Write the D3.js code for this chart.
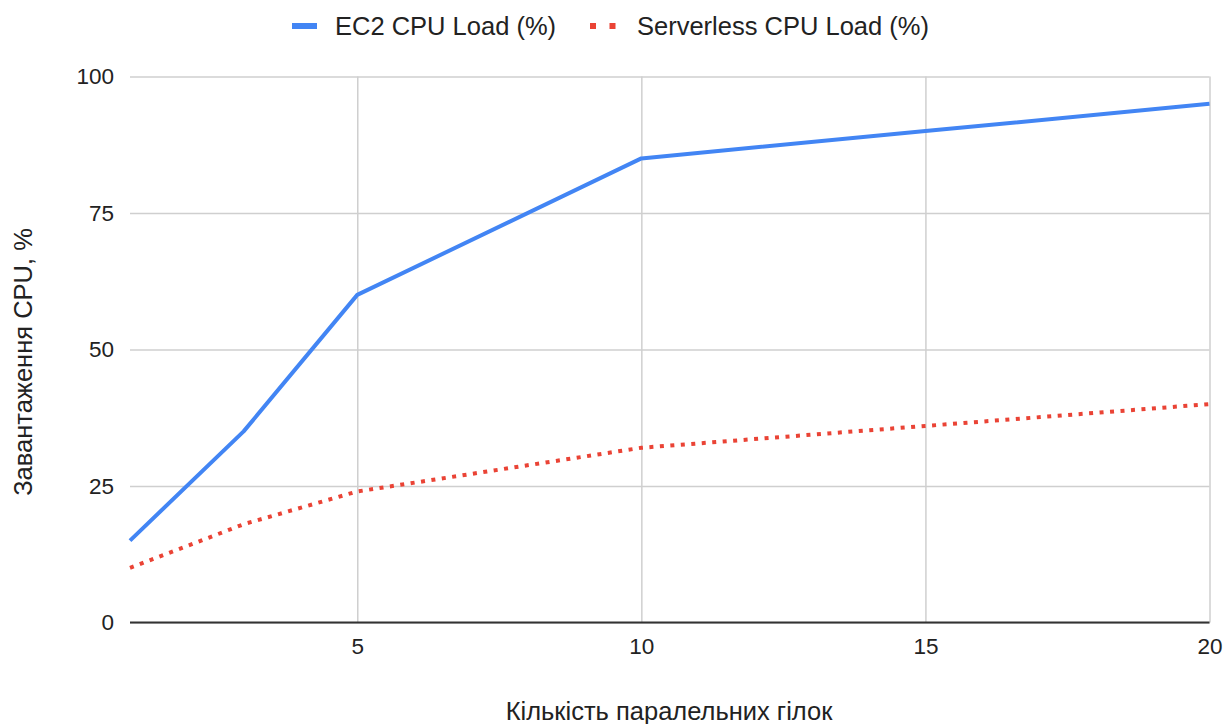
<!DOCTYPE html>
<html>
<head>
<meta charset="utf-8">
<script src="https://cdn.jsdelivr.net/npm/d3@7"></script>
<style>
  html, body { margin: 0; padding: 0; background: #fff; }
  svg { display: block; font-family: "Liberation Sans", Arial, sans-serif; }
</style>
</head>
<body>
<svg id="chart" width="1227" height="724"></svg>
<script>
// Number of parallel branches
const branches = [1, 3, 5, 10, 15, 20];
// CPU load per configuration, %
const ec2Load = [15, 35, 60, 85, 90, 95];
const serverlessLoad = [10, 18, 24, 32, 36, 40];
const xTicks = [5, 10, 15, 20];
const yTicks = [0, 25, 50, 75, 100];
const seriesNames = ["EC2 CPU Load (%)", "Serverless CPU Load (%)"];
const xTitle = "Кількість паралельних гілок";
const yTitle = "Завантаження CPU, %";

const W = 1227, H = 724;
const plot = { left: 130, right: 1209.5, top: 76.5, bottom: 622.5 };
const colors = { ec2: "#4285F4", serverless: "#EA4335" };
const tickFont = 22.5, labelFont = 25.5;

const svg = d3.select("#chart");

const x = d3.scaleLinear().domain([1, 20]).range([plot.left, plot.right]);
const y = d3.scaleLinear().domain([0, 100]).range([plot.bottom, plot.top]);

// Horizontal gridlines + y tick labels
const yAxis = d3.axisLeft(y).tickValues(yTicks).tickSize(-(plot.right - plot.left)).tickPadding(16);
const gy = svg.append("g").attr("transform", `translate(${plot.left},0)`).call(yAxis);
gy.select(".domain").remove();
gy.selectAll(".tick line").attr("stroke", "#cfcfcf").attr("stroke-width", 1.5);
gy.selectAll(".tick text").attr("fill", "#222").attr("font-size", tickFont).attr("font-family", "Liberation Sans, Arial, sans-serif");

// Vertical gridlines + x tick labels
const xAxis = d3.axisBottom(x).tickValues(xTicks).tickSize(-(plot.bottom - plot.top)).tickPadding(16);
const gx = svg.append("g").attr("transform", `translate(0,${plot.bottom})`).call(xAxis);
gx.select(".domain").remove();
gx.selectAll(".tick line").attr("stroke", "#cfcfcf").attr("stroke-width", 1.5);
gx.selectAll(".tick text").attr("fill", "#222").attr("font-size", tickFont).attr("font-family", "Liberation Sans, Arial, sans-serif");

// Zero baseline
svg.append("line")
  .attr("x1", plot.left).attr("x2", plot.right)
  .attr("y1", y(0)).attr("y2", y(0))
  .attr("stroke", "#333").attr("stroke-width", 2);

// Series lines
const line = d3.line().x(d => x(d[0])).y(d => y(d[1]));

svg.append("path")
  .datum(branches.map((b, i) => [b, serverlessLoad[i]]))
  .attr("d", line)
  .attr("fill", "none")
  .attr("stroke", colors.serverless)
  .attr("stroke-width", 4)
  .attr("stroke-dasharray", "4 6.5");

svg.append("path")
  .datum(branches.map((b, i) => [b, ec2Load[i]]))
  .attr("d", line)
  .attr("fill", "none")
  .attr("stroke", colors.ec2)
  .attr("stroke-width", 4)
  .attr("stroke-linejoin", "round");

// Legend
const legend = svg.append("g");
legend.append("rect")
  .attr("x", 292).attr("y", 23).attr("width", 25).attr("height", 6)
  .attr("fill", colors.ec2);
legend.append("text")
  .attr("x", 335).attr("y", 35)
  .attr("font-size", labelFont).attr("fill", "#222")
  .text(seriesNames[0]);
[590, 609.5].forEach(px => {
  legend.append("rect")
    .attr("x", px).attr("y", 23).attr("width", 6).attr("height", 6)
    .attr("fill", colors.serverless);
});
legend.append("text")
  .attr("x", 637).attr("y", 35)
  .attr("font-size", labelFont).attr("fill", "#222")
  .text(seriesNames[1]);

// Axis titles
svg.append("text")
  .attr("x", 669).attr("y", 720)
  .attr("text-anchor", "middle")
  .attr("font-size", labelFont).attr("fill", "#222")
  .text(xTitle);

svg.append("text")
  .attr("transform", "translate(32,362) rotate(-90)")
  .attr("text-anchor", "middle")
  .attr("font-size", labelFont).attr("fill", "#222")
  .text(yTitle);
</script>
</body>
</html>
